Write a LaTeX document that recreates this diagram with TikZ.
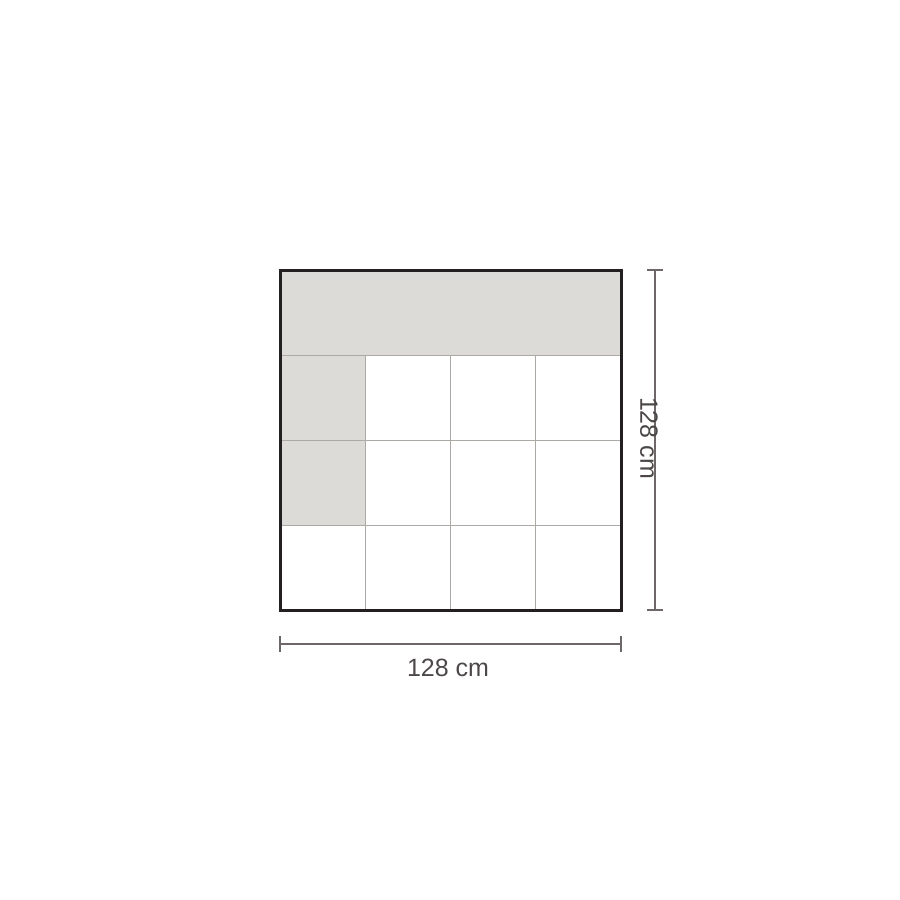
\documentclass[tikz,border=0pt]{standalone}
\usepackage{fontspec}
\setmainfont{Liberation Sans}
\definecolor{tilegray}{HTML}{DCDBD7}
\definecolor{gridgray}{HTML}{ADA9A5}
\definecolor{framedark}{HTML}{231F20}
\definecolor{dimgray}{HTML}{6D6767}
\definecolor{labelgray}{HTML}{4D4848}
\begin{document}
\begin{tikzpicture}[x=1pt,y=-1pt]
\tikzset{dimline/.style={dimgray, line width=2pt}};
\tikzset{dimlabel/.style={labelgray, font=\fontsize{25}{29}\selectfont, inner sep=0pt}};
\useasboundingbox (0,0) rectangle (900,900);

% corners of the square
\coordinate (c1) at (280,270);
\coordinate (c2) at (621,270);
\coordinate (c3) at (621,610);
\coordinate (c4) at (280,610);

% grey tiles
\fill[tilegray] (280,270) rectangle (621,355);
\fill[tilegray] (280,355) rectangle (365,525);

% grid
\foreach \x in {365,450,535}
  \draw[gridgray, line width=1pt] (\x,355)--(\x,610);
\foreach \y in {355,440,525}
  \draw[gridgray, line width=1pt] (280,\y)--(621,\y);

\draw[framedark, line width=3pt] (c1)--(c2)--(c3)--(c4)--cycle;

% width
\coordinate (w1) at (280,644);
\coordinate (w2) at (621,644);
\draw[dimline] (w1)--(w2);
\draw[dimline] (280,636)--(280,652);
\draw[dimline] (621,636)--(621,652);
\node[dimlabel] (wlabel) at (448,668) {128 cm};

% height
\coordinate (h1) at (655,270);
\coordinate (h2) at (655,610);
\draw[dimline] (h1)--(h2);
\draw[dimline] (647,270)--(663,270);
\draw[dimline] (647,610)--(663,610);
\node[dimlabel, rotate=-90] (hlabel) at (649,438) {128 cm};

\end{tikzpicture}
\end{document}
